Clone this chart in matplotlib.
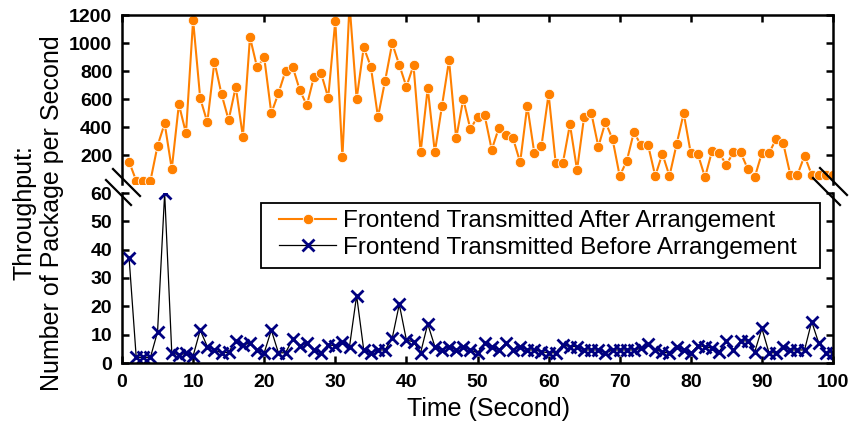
import matplotlib
matplotlib.use("Agg")
import matplotlib.pyplot as plt
from matplotlib.lines import Line2D
from matplotlib.patches import Rectangle

plt.rcParams['font.family'] = ['Liberation Sans', 'DejaVu Sans']

# Time axis (seconds)
seconds = list(range(1, 101))

# Packets per second after arrangement
after_arrangement = [
    152, 16, 16, 16, 266, 426, 100, 562, 355, 1164,
    605, 434, 866, 634, 450, 688, 331, 1041, 826, 898,
    498, 641, 800, 831, 664, 555, 759, 784, 609, 1159,
    184, 1280, 600, 969, 831, 471, 729, 998, 843, 688,
    841, 219, 679, 219, 550, 876, 319, 600, 384, 474,
    484, 238, 393, 341, 319, 148, 552, 212, 266, 636,
    141, 141, 419, 93, 474, 502, 259, 436, 312, 50,
    159, 364, 269, 269, 50, 209, 50, 276, 498, 212,
    205, 41, 231, 212, 131, 219, 219, 102, 43, 214,
    212, 316, 284, 59, 59, 195, 59, 59, 59, 59,
]

# Packets per second before arrangement
before_arrangement = [
    37, 2, 2, 2, 11, 60, 3.6, 2.9, 3.4, 2.5,
    11.6, 5.8, 4.6, 3.6, 3.8, 7.8, 6.4, 7, 4.6, 3.6,
    11.6, 3.6, 3.6, 8.4, 6.1, 7, 4.6, 3.6, 6.4, 6.1,
    7.5, 5.8, 23.8, 4.6, 3.6, 4.6, 4.6, 8.7, 20.7, 8.1,
    7.5, 3.6, 13.8, 5.8, 4.6, 5.8, 4.6, 5.8, 4.6, 3.6,
    7, 5.8, 4.6, 7, 4.6, 5.8, 4.6, 4.6, 4.0, 3.6,
    3.6, 6.4, 5.8, 5.8, 4.6, 4.6, 4.6, 3.6, 4.6, 4.6,
    4.6, 4.6, 5.2, 6.7, 4.6, 4.0, 3.4, 5.8, 4.6, 3.4,
    6.1, 5.8, 5.2, 4.0, 7.8, 4.6, 7.8, 7.8, 4.0, 12.2,
    3.6, 3.6, 5.8, 4.6, 4.6, 4.6, 14.6, 7, 3.6, 3.6,
]

x_ticks = [0, 10, 20, 30, 40, 50, 60, 70, 80, 90, 100]
top_yticks = [200, 400, 600, 800, 1000, 1200]
bottom_yticks = [0, 10, 20, 30, 40, 50, 60]

ORANGE = '#FF8000'
NAVY = '#000080'

W, H = 853, 426
fig = plt.figure(figsize=(W / 100, H / 100), dpi=100)


def px_rect(x0, y0, x1, y1):
    return [x0 / W, 1 - y1 / H, (x1 - x0) / W, (y1 - y0) / H]


ax_top = fig.add_axes(px_rect(122, 15, 833, 184))
ax_bot = fig.add_axes(px_rect(122, 193, 833, 363))

spine_w = 1.8
for ax in (ax_top, ax_bot):
    for s in ax.spines.values():
        s.set_linewidth(spine_w)
    ax.set_xlim(0, 100)
    ax.set_xticks(x_ticks)

# Upper panel
ax_top.spines['bottom'].set_visible(False)
ax_top.set_ylim(-7, 1200)
ax_top.set_yticks(top_yticks)
ax_top.tick_params(axis='x', which='both', bottom=False, top=True,
                   labelbottom=False, direction='in', length=5, width=1.8)
ax_top.tick_params(axis='y', left=True, right=True, direction='in',
                   length=5, width=1.8, pad=7, labelsize=14)
ln_after, = ax_top.plot(seconds, after_arrangement, color=ORANGE, lw=1.5,
                        marker='o', markersize=7.5, markerfacecolor=ORANGE,
                        markeredgecolor='white', markeredgewidth=0.6,
                        label='Frontend Transmitted After Arrangement')

# Lower panel
ax_bot.spines['top'].set_visible(False)
ax_bot.set_ylim(0, 60)
ax_bot.set_yticks(bottom_yticks)
ax_bot.tick_params(axis='x', bottom=True, top=False, direction='in',
                   length=5, width=1.8, pad=8, labelsize=14)
ax_bot.tick_params(axis='y', left=True, right=True, direction='in',
                   length=5, width=1.8, pad=7, labelsize=14)
ln_before, = ax_bot.plot(seconds, before_arrangement, color='black', lw=0.9,
                         marker='x', markersize=8, markeredgecolor=NAVY,
                         markeredgewidth=2.0,
                         label='Frontend Transmitted Before Arrangement')

for ax in (ax_top, ax_bot):
    for lab in ax.get_xticklabels() + ax.get_yticklabels():
        lab.set_fontweight('bold')

# Legend entries without their own frame; a box with wider margins is drawn around them
leg = fig.legend(handles=[ln_after, ln_before], loc='upper left',
                 bbox_to_anchor=(279 / W, 1 - 210 / H), fontsize=17.5,
                 frameon=False, borderpad=0, labelspacing=0.2,
                 handlelength=2.35, handletextpad=0.3, borderaxespad=0)
fig.add_artist(Rectangle((261 / W, 1 - 268 / H), (820 - 261) / W, (268 - 203) / H,
                         transform=fig.transFigure, facecolor='none',
                         edgecolor='black', lw=1.3, zorder=5))

ax_bot.set_xlabel('Time (Second)', fontsize=18, labelpad=4)
ax_bot.xaxis.set_label_coords(0.515, -0.2)
fig.text(0.045, 0.5, 'Throughput:\nNumber of Package per Second',
         rotation=90, ha='center', va='center', fontsize=18,
         multialignment='center')


# Axis-break markers on both vertical spines
def brk(x0, y0, x1, y1):
    fig.add_artist(Line2D([x0 / W, x1 / W], [1 - y0 / H, 1 - y1 / H],
                          transform=fig.transFigure, color='black', lw=1.6))


brk(113, 169, 140, 196)
brk(106, 180, 131, 205)
brk(820, 168, 847, 195)
brk(813, 178, 840, 205)

fig.savefig('out.png', dpi=100)
